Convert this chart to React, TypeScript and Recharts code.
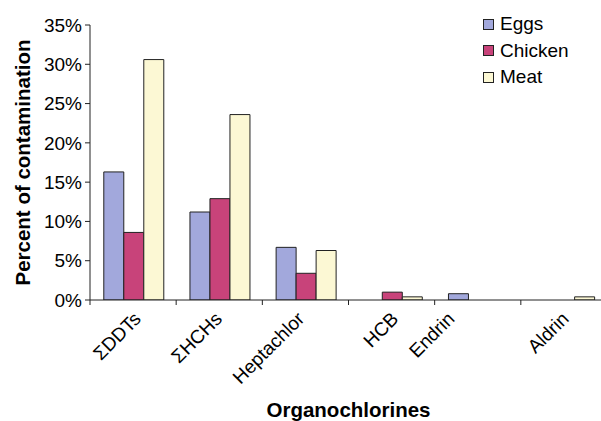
import { BarChart, Bar, XAxis, YAxis, Legend } from 'recharts';

const categories = ['\u03A3DDTs', '\u03A3HCHs', 'Heptachlor', 'HCB', 'Endrin', 'Aldrin'];
const eggs = [16.3, 11.2, 6.7, 0, 0.8, 0];
const chicken = [8.6, 12.9, 3.4, 1.0, 0, 0];
const meat = [30.6, 23.6, 6.3, 0.4, 0, 0.4];
const yTicks = [0, 5, 10, 15, 20, 25, 30, 35];

const seriesNames = ['Eggs', 'Chicken', 'Meat'];
const seriesColors = ['#a2a8dc', '#c8437a', '#fcf8d4'];

// the labels in the original sit a little off their category centres
const labelShift = [9, 4, 0, 8, -22, 6];

const data = categories.map((name, i) => ({
  name,
  Eggs: eggs[i],
  Chicken: chicken[i],
  Meat: meat[i],
}));

const FONT = '"Liberation Sans", Arial, sans-serif';
const CHART_W = 610;
const CHART_H = 421;
const Y_AXIS_W = 90;
const MARGIN = { top: 25, right: 3, left: 0, bottom: 0 };
const BAND = (CHART_W - MARGIN.left - MARGIN.right - Y_AXIS_W) / categories.length;

function CategoryTick(props: any) {
  const { x, y, payload, index } = props;
  const edge = x - BAND / 2;
  const tx = x + (labelShift[index] ?? 6);
  const ty = y + 20;
  return (
    <g>
      <line x1={edge} y1={y} x2={edge} y2={y + 5} stroke="#222" />
      <text
        x={tx}
        y={ty}
        textAnchor="end"
        fontSize={19}
        fontFamily={FONT}
        fill="#000"
        transform={`rotate(-45, ${tx}, ${ty})`}
      >
        {payload.value}
      </text>
    </g>
  );
}

function YTitle(props: any) {
  const { viewBox } = props;
  const cy = viewBox.y + viewBox.height / 2;
  return (
    <text
      x={22}
      y={cy}
      textAnchor="middle"
      dominantBaseline="central"
      fontSize={20.5}
      fontWeight="bold"
      fontFamily={FONT}
      fill="#000"
      transform={`rotate(-90, 22, ${cy})`}
    >
      Percent of contamination
    </text>
  );
}

function XTitle(props: any) {
  const { viewBox } = props;
  const cx = viewBox.x + viewBox.width / 2;
  return (
    <text
      x={cx}
      y={417}
      textAnchor="middle"
      fontSize={20.5}
      fontWeight="bold"
      fontFamily={FONT}
      fill="#000"
    >
      Organochlorines
    </text>
  );
}

function LegendBox() {
  return (
    <div style={{ fontFamily: FONT, fontSize: 19, color: '#000' }}>
      {seriesNames.map((name, i) => (
        <div key={name} style={{ display: 'flex', alignItems: 'center', height: 26.5 }}>
          <span
            style={{
              display: 'inline-block',
              width: 9,
              height: 9,
              border: '1px solid #222',
              background: seriesColors[i],
              marginRight: 6,
            }}
          />
          <span>{name}</span>
        </div>
      ))}
    </div>
  );
}

export default function App() {
  return (
    <div
      style={{
        position: 'absolute',
        left: 0,
        top: 0,
        width: 601,
        height: 421,
        overflow: 'hidden',
        background: '#fff',
      }}
    >
      <BarChart
        width={CHART_W}
        height={CHART_H}
        data={data}
        margin={MARGIN}
        barCategoryGap="16%"
        barGap={0}
      >
        <XAxis
          dataKey="name"
          height={CHART_H - 300}
          axisLine={{ stroke: '#222' }}
          tickLine={false}
          tickSize={0}
          tickMargin={0}
          interval={0}
          tick={<CategoryTick />}
          label={<XTitle />}
        />
        <YAxis
          width={Y_AXIS_W}
          domain={[0, 35]}
          ticks={yTicks}
          allowDataOverflow
          interval={0}
          axisLine={{ stroke: '#222' }}
          tickLine={{ stroke: '#222' }}
          tickSize={5}
          tickMargin={3}
          tickFormatter={(v: number) => `${v}%`}
          tick={{ fontSize: 19, fontFamily: FONT, fill: '#000' }}
          label={<YTitle />}
        />
        <Legend
          verticalAlign="middle"
          align="center"
          layout="vertical"
          content={<LegendBox />}
          wrapperStyle={{ position: 'absolute', left: 483, top: 11, width: 120, height: 80 }}
        />
        {seriesNames.map((name, i) => (
          <Bar
            key={name}
            dataKey={name}
            fill={seriesColors[i]}
            stroke="#222"
            strokeWidth={1}
            isAnimationActive={false}
          />
        ))}
      </BarChart>
    </div>
  );
}
